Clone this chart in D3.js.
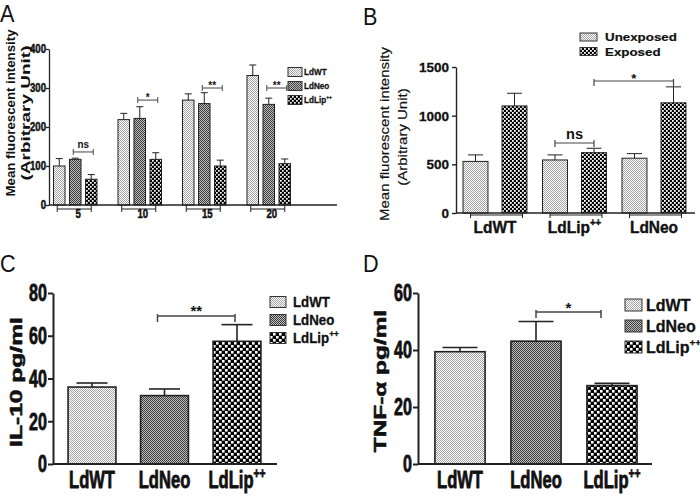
<!DOCTYPE html>
<html>
<head>
<meta charset="utf-8">
<script src="https://cdn.jsdelivr.net/npm/d3@7"></script>
<style>
  body { margin: 0; background: #fff; }
  svg { display: block; }
  text { font-family: "Liberation Sans", Arial, sans-serif; font-weight: bold; fill: #111; }
</style>
</head>
<body>
<svg id="fig" width="700" height="496"></svg>
<script>
// ---- Panel A: MFI over time ----
const timeLabels = ["5", "10", "15", "20"];
const strainNames = ["LdWT", "LdNeo", "LdLip++"];
const aTicks = [0, 100, 200, 300, 400];
const aWT = [100, 219, 269, 332];
const aWTErr = [19, 16, 16, 27];
const aNeo = [117, 222, 260, 258];
const aNeoErr = [3, 30, 28, 16];
const aLip = [66, 117, 100, 106];
const aLipErr = [12, 17, 15, 12];
const aSig = [["5", "ns", 136], ["10", "*", 269], ["15", "**", 300], ["20", "**", 300]];

// ---- Panel B: unexposed vs exposed ----
const bStrains = ["LdWT", "LdLip++", "LdNeo"];
const bConditions = ["Unexposed", "Exposed"];
const bTicks = [0, 500, 1000, 1500];
const bUnexp = [530, 545, 563];
const bUnexpErr = [67, 52, 47];
const bExp = [1100, 620, 1132];
const bExpErr = [130, 45, 164];

// ---- Panel C: IL-10 ----
const cStrains = ["LdWT", "LdNeo", "LdLip++"];
const cTicks = [0, 20, 40, 60, 80];
const il10 = [36, 32, 57.4];
const il10Err = [1.9, 3.1, 7.8];

// ---- Panel D: TNF-alpha ----
const dTicks = [0, 20, 40, 60];
const tnf = [39.4, 43.1, 27.5];
const tnfErr = [1.5, 6.9, 0.8];

const svg = d3.select("#fig");
const defs = svg.append("defs");

// checker style fill patterns
function makePattern(id, size, bg, fg, cell) {
    const p = defs.append("pattern").attr("id", id)
        .attr("patternUnits", "userSpaceOnUse")
        .attr("width", size).attr("height", size);
    p.append("rect").attr("width", size).attr("height", size).attr("fill", bg);
    const h = size / 2;
    p.append("rect").attr("x", 0).attr("y", 0).attr("width", cell).attr("height", cell).attr("fill", fg);
    p.append("rect").attr("x", h).attr("y", h).attr("width", cell).attr("height", cell).attr("fill", fg);
}
makePattern("light", 2, "#fff", "#a4a4a4", 1);
makePattern("dark", 2, "#bdbdbd", "#3c3c3c", 1);
makePattern("chkS", 4, "#000", "#fff", 1.7);
makePattern("chkM", 4, "#000", "#fff", 1.8);
makePattern("chkL", 6, "#000", "#fff", 2.6);

// text helper: squish horizontally, optional rotation, "++" as superscript
function label(g, x, y, str, o = {}) {
    const size = o.size || 12;
    const t = g.append("text")
        .attr("transform", `translate(${x},${y}) scale(${o.sx || 1},1)` + (o.rot ? ` rotate(${o.rot})` : ""))
        .attr("text-anchor", o.anchor || "middle")
        .style("font-size", size + "px");
    if (o.weight) t.style("font-weight", o.weight);
    if (o.len) t.attr("textLength", o.len).attr("lengthAdjust", "spacingAndGlyphs");
    if (o.dy) t.attr("dy", o.dy);
    if (o.heavy) t.attr("stroke", "#111").attr("stroke-width", o.heavy).attr("stroke-linejoin", "round");
    if (str.endsWith("++")) {
        t.append("tspan").text(str.slice(0, -2));
        t.append("tspan").attr("dy", -size * 0.42).style("font-size", (size * 0.62) + "px").text("++");
    } else {
        t.text(str);
    }
    return t;
}

function yAxis(g, x, scale, ticks, o) {
    const ax = g.append("g").attr("transform", `translate(${x},0)`)
        .call(d3.axisLeft(scale).tickValues(ticks).tickSize(o.tick).tickSizeOuter(0).tickFormat(""));
    ax.select(".domain").attr("stroke", "#222").attr("stroke-width", o.sw);
    ax.selectAll(".tick line").attr("stroke", "#222").attr("stroke-width", o.sw);
    ticks.forEach(t => label(g, x - o.tick - o.gap, scale(t), String(t),
        { size: o.size, sx: o.sx, anchor: "end", dy: "0.36em", heavy: o.heavy }));
}

function xLine(g, x1, x2, y, sw) {
    g.append("line").attr("x1", x1).attr("x2", x2).attr("y1", y).attr("y2", y)
        .attr("stroke", "#222").attr("stroke-width", sw);
}

function bar(g, cx, w, y, v, e, fill, o) {
    g.append("rect").attr("x", cx - w / 2).attr("y", y(v)).attr("width", w)
        .attr("height", y(0) - y(v)).attr("fill", fill)
        .attr("stroke", "#222").attr("stroke-width", o.sw);
    g.append("line").attr("x1", cx).attr("x2", cx).attr("y1", y(v)).attr("y2", y(v + e))
        .attr("stroke", "#222").attr("stroke-width", o.sw);
    g.append("line").attr("x1", cx - o.cap / 2).attr("x2", cx + o.cap / 2)
        .attr("y1", y(v + e)).attr("y2", y(v + e))
        .attr("stroke", "#222").attr("stroke-width", o.sw);
}

function bracket(g, x1, x2, y, txt, o) {
    const s = "#444";
    g.append("line").attr("x1", x1).attr("x2", x2).attr("y1", y).attr("y2", y).attr("stroke", s).attr("stroke-width", o.sw);
    [x1, x2].forEach(x => g.append("line").attr("x1", x).attr("x2", x)
        .attr("y1", y - o.up).attr("y2", y + o.down).attr("stroke", s).attr("stroke-width", o.sw));
    label(g, (x1 + x2) / 2, y + o.ty, txt, { size: o.size, sx: o.sx || 1 });
}

// grouped x-axis marks under the baseline
function groupMark(g, x1, x2, y, off, tick) {
    g.append("line").attr("x1", x1).attr("x2", x2).attr("y1", y + off).attr("y2", y + off)
        .attr("stroke", "#222").attr("stroke-width", 1);
    [x1, x2].forEach(x => g.append("line").attr("x1", x).attr("x2", x)
        .attr("y1", y).attr("y2", y + tick).attr("stroke", "#222").attr("stroke-width", 1));
}

function legend(g, x, y0, step, names, fills, o) {
    names.forEach((n, i) => {
        const cy = y0 + i * step;
        g.append("rect").attr("x", x).attr("y", cy - o.h / 2).attr("width", o.w).attr("height", o.h)
            .attr("fill", fills[i]).attr("stroke", "#333").attr("stroke-width", 1);
        label(g, x + o.w + o.gap, cy, n, { size: o.size, sx: o.sx, anchor: "start", dy: "0.36em", heavy: o.heavy });
    });
}

// ================= Panel A =================
(function () {
    const g = svg.append("g");
    const x = d3.scaleBand().domain(timeLabels).range([43, 301]);
    const xi = d3.scaleBand().domain(strainNames).range([-24, 24]).paddingInner(0.28).paddingOuter(0.14);
    const y = d3.scaleLinear().domain([0, 400]).range([205, 49]);
    const fills = ["url(#light)", "url(#dark)", "url(#chkS)"];
    const vals = [aWT, aNeo, aLip], errs = [aWTErr, aNeoErr, aLipErr];
    const cx = (t, s) => x(t) + x.bandwidth() / 2 + xi(s) + xi.bandwidth() / 2;

    timeLabels.forEach((t, ti) => {
        strainNames.forEach((s, si) => {
            bar(g, cx(t, s), xi.bandwidth(), y, vals[si][ti], errs[si][ti], fills[si], { sw: 1, cap: 7 });
        });
        const a = cx(t, strainNames[0]), b = cx(t, strainNames[2]);
        groupMark(g, a - 2, b, y(0), 4, 7);
        label(g, (a + b) / 2 + 3, 218, t, { size: 12, sx: 0.8, heavy: 0.5 });
    });
    xLine(g, 49, 337, y(0), 1.3);
    yAxis(g, 49, y, aTicks, { tick: 3, gap: 0, size: 12, sx: 0.8, sw: 1.3, heavy: 0.5 });

    aSig.forEach(([t, txt, v]) => {
        bracket(g, cx(t, "LdNeo") - 2, cx(t, "LdLip++") + 2, y(v), txt,
            txt === "ns" ? { sw: 1, up: 3, down: 3, ty: -4, size: 11, sx: 0.9 }
                         : { sw: 1, up: 3, down: 3, ty: 1, size: 10, sx: 1 });
    });

    legend(g, 288, 72, 14, strainNames, fills, { w: 14, h: 9, gap: 2, size: 9.6, sx: 0.85, heavy: 0.3 });

    label(g, 15, 113, "Mean fluorescent intensity", { size: 13, rot: -90, len: 167 });
    label(g, 30, 113, "(Arbitrary Unit)", { size: 13, rot: -90, len: 135 });
    label(g, 0, 22, "A", { size: 24, sx: 0.9, anchor: "start", weight: "normal" });
})();

// ================= Panel B =================
(function () {
    const g = svg.append("g");
    const x = d3.scaleBand().domain(bStrains).range([455.25, 693.75]);
    const xi = d3.scaleBand().domain(bConditions).range([-39, 39]).paddingInner(0.36).paddingOuter(0.18);
    const y = d3.scaleLinear().domain([0, 1500]).range([213, 67]);
    const fills = ["url(#light)", "url(#chkM)"];
    const vals = [bUnexp, bExp], errs = [bUnexpErr, bExpErr];
    const cx = (s, c) => x(s) + x.bandwidth() / 2 + xi(c) + xi.bandwidth() / 2;

    bStrains.forEach((s, si) => {
        bConditions.forEach((c, ci) => {
            bar(g, cx(s, c), xi.bandwidth(), y, vals[ci][si], errs[ci][si], fills[ci], { sw: 1, cap: 15 });
        });
        const a = cx(s, bConditions[0]), b = cx(s, bConditions[1]);
        groupMark(g, a - 5, b + 8, y(0), 2, 5);
        label(g, x(s) + x.bandwidth() / 2, 233, s, { size: 17, sx: 0.91, heavy: 0.4 });
    });
    xLine(g, 456, 695, y(0), 1.4);
    yAxis(g, 456, y, bTicks, { tick: 4, gap: 3, size: 13.5, sx: 1, sw: 1.4, heavy: 0.3 });

    bracket(g, cx("LdLip++", "Unexposed"), cx("LdLip++", "Exposed"), y(719), "ns",
        { sw: 1.2, up: 3, down: 4, ty: -4, size: 14.5, sx: 1 });
    bracket(g, cx("LdLip++", "Exposed"), cx("LdNeo", "Exposed"), y(1356), "*",
        { sw: 1.2, up: 2, down: 5, ty: 2, size: 13, sx: 1 });

    legend(g, 580, 37, 14.5, bConditions, fills, { w: 17, h: 8, gap: 8, size: 11.6, sx: 1.15, heavy: 0.2 });

    label(g, 389, 134, "Mean fluorescent intensity", { size: 15, sx: 0.86, rot: -90, weight: "normal", heavy: 0.2 });
    label(g, 407, 137, "(Arbitrary Unit)", { size: 15, sx: 0.86, rot: -90, weight: "normal", heavy: 0.2 });
    label(g, 363, 25, "B", { size: 24, sx: 0.9, anchor: "start", weight: "normal" });
})();

// ================= Panels C and D =================
function cytokinePanel(o) {
    const g = svg.append("g");
    const x = d3.scaleBand().domain(cStrains).range(o.xr).paddingInner(0.34).paddingOuter(0.17);
    const y = d3.scaleLinear().domain(o.dom).range([464, 293]);
    const fills = ["url(#light)", "url(#dark)", "url(#chkL)"];
    const cx = s => x(s) + x.bandwidth() / 2;

    cStrains.forEach((s, i) => {
        bar(g, cx(s), x.bandwidth(), y, o.vals[i], o.errs[i], fills[i], { sw: 1.6, cap: o.cap });
        label(g, cx(s), 488, s, { size: 23, sx: 0.72, heavy: 0.8 });
    });
    xLine(g, o.ax, o.xEnd, y(0), 2);
    yAxis(g, o.ax, y, o.ticks, { tick: 5, gap: 1, size: 23, sx: 0.7, sw: 2, heavy: 0.8 });

    bracket(g, cx("LdNeo") + o.bOff[0], cx("LdLip++") + o.bOff[1], y(o.sigV), o.sig,
        { sw: 1.5, up: 2, down: 6, ty: o.sigTy, size: 15, sx: 1 });

    legend(g, o.lx, o.ly, o.lstep, cStrains, fills, o.leg);

    label(g, o.ylx, o.yly, o.ylab, { size: o.ylSize, sx: 0.7, rot: -90, heavy: 0.8 });
    label(g, o.ax - 53 + o.pOff, 272, o.panel, { size: 24, sx: 0.9, anchor: "start", weight: "normal" });
}

cytokinePanel({
    panel: "C", pOff: 0, xr: [55.75, 273.25], dom: [0, 80], ticks: cTicks, vals: il10, errs: il10Err,
    ax: 53, xEnd: 277, cap: 31, sig: "**", sigV: 69.2, sigTy: 0, bOff: [-7, -2],
    lx: 270, ly: 302, lstep: 18, leg: { w: 16, h: 11, gap: 7, size: 14, sx: 0.95, heavy: 0.3 },
    ylx: 22, yly: 382, ylab: "IL-10 pg/ml", ylSize: 24.6
});
cytokinePanel({
    panel: "D", pOff: -2, xr: [422, 650], dom: [0, 60], ticks: dTicks, vals: tnf, errs: tnfErr,
    ax: 418, xEnd: 652, cap: 35, sig: "*", sigV: 53.3, sigTy: 1, bOff: [0, -11],
    lx: 625, ly: 305, lstep: 21, leg: { w: 17, h: 12, gap: 4, size: 16, sx: 1, heavy: 0.3 },
    ylx: 386, yly: 381, ylab: "TNF-α pg/ml", ylSize: 24.4
});
</script>
</body>
</html>
